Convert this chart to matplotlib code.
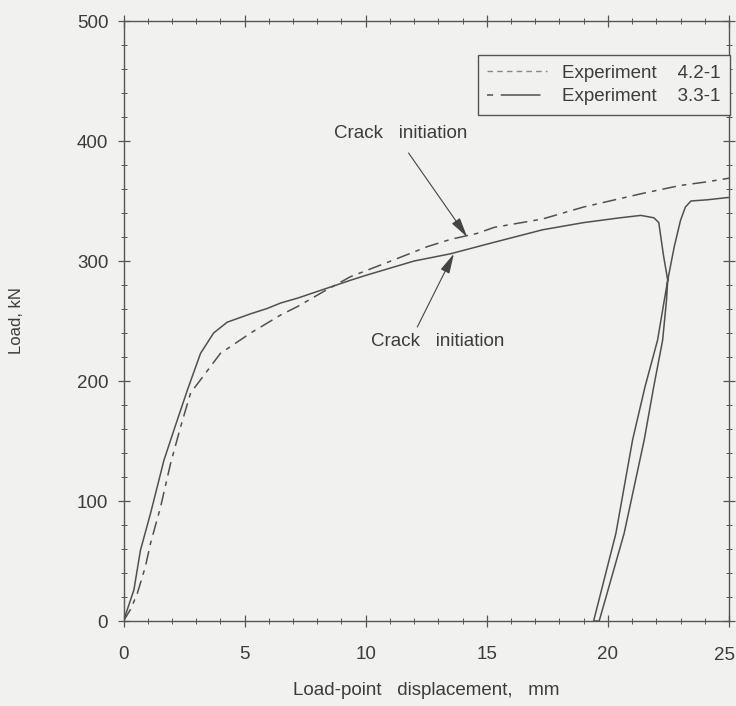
import matplotlib
matplotlib.use("Agg")
import matplotlib.pyplot as plt
from matplotlib.lines import Line2D
from matplotlib.ticker import MultipleLocator, FixedLocator, FixedFormatter

plt.rcParams['font.family'] = ['Liberation Sans', 'DejaVu Sans']
plt.rcParams['font.size'] = 13.5

# Experiment 3.3-1 (with unload / reload cycle near 22 mm)
disp_33 = [0, 0.43, 0.7, 1.12, 1.67, 2.08, 2.63, 3.18, 3.72, 4.28, 5.25, 5.94,
           6.49, 7.18, 8.5, 9.38, 10, 12, 13.5, 15, 17.3, 19, 20.5, 21.36, 21.9,
           22.1, 22.3, 22.47, 22.42, 22.26, 21.89, 21.5, 20.67, 19.64, 19.41,
           20.33, 21.02, 21.53, 22.05, 22.33, 22.47, 22.74, 23.0, 23.2, 23.43,
           24.1, 25]
load_33 = [0, 26, 59, 90, 134, 159, 192, 223, 240, 249, 256, 260.5,
           265, 269, 278, 284, 288, 300, 306, 314, 326, 332, 336, 338, 336,
           332, 304, 284, 267.5, 234, 195, 151, 73, 0, 0,
           73, 151, 195, 234, 267.5, 284, 312, 334, 345, 350,
           351, 353]

# Experiment 4.2-1
disp_42 = [0, 0.3, 0.57, 0.9, 1.12, 1.53, 1.94, 2.36, 2.77, 3.18, 4.0, 5.25,
           6.49, 7.18, 8.3, 9.38, 11.17, 12.55, 13.5, 14.6, 15.3, 17.3, 19,
           21.36, 23, 24.1, 25]
load_42 = [0, 10, 23, 45, 65, 95, 131, 162, 190, 201, 223, 240,
           255, 262, 275, 287, 301, 312, 318, 323, 328, 335, 345,
           356, 363, 366, 369]

x_ticks = [0, 5, 10, 15, 20, 25]
x_ticklabels = ["0", "5", "10", "15", "20", "25"]
labels = ["Experiment    4.2-1", "Experiment    3.3-1"]

bg = '#f1f1ef'
ink = '#3c3c3c'
line_col = '#505050'

fig = plt.figure(figsize=(7.36, 7.06), dpi=100, facecolor=bg)
ax = fig.add_axes([123.5 / 736, 1 - 621 / 706, (729 - 123.5) / 736, 600 / 706])
ax.set_facecolor(bg)

ax.plot(disp_33, load_33, color=line_col, lw=1.1, linestyle='-')
ax.plot(disp_42, load_42, color=line_col, lw=1.1, linestyle=(0, (9, 4, 3, 4)))

ax.set_xlim(0, 25)
ax.set_ylim(0, 500)
ax.xaxis.set_major_locator(FixedLocator(x_ticks))
# the last label sits at the page edge, it is drawn separately below
ax.xaxis.set_major_formatter(FixedFormatter(x_ticklabels[:-1] + [""]))
ax.xaxis.set_minor_locator(MultipleLocator(1))
ax.yaxis.set_major_locator(MultipleLocator(100))
ax.yaxis.set_minor_locator(MultipleLocator(20))
ax.tick_params(which='both', direction='inout', top=True, right=True,
               color='#555555', labelcolor=ink)
ax.tick_params(which='major', length=8, width=0.9)
ax.tick_params(which='minor', length=4, width=0.7)
ax.tick_params(axis='x', which='major', pad=14)
ax.tick_params(axis='y', which='major', pad=7)
for s in ax.spines.values():
    s.set_color('#555555')
    s.set_linewidth(1)

ax.annotate(x_ticklabels[-1], xy=(x_ticks[-1], 0),
            xycoords=('data', 'axes fraction'), xytext=(4.6, -24.5),
            textcoords='offset points', ha='right', va='center', color=ink,
            annotation_clip=False)

ax.set_xlabel("Load-point   displacement,   mm", color=ink, labelpad=14)
ax.set_ylabel("Load, kN", color=ink, fontsize=12, labelpad=38)

# crack initiation markers
arrow = dict(arrowstyle='-|>,head_length=0.9,head_width=0.22', color='#444444',
             lw=0.8, shrinkA=0, shrinkB=0)
ax.annotate("", xy=(14.19, 320), xytext=(11.77, 390), arrowprops=arrow)
ax.annotate("", xy=(13.64, 306), xytext=(12.13, 245), arrowprops=arrow)
ax.text(11.44, 406, "Crack   initiation", ha='center', va='center', color=ink)
ax.text(12.97, 233, "Crack   initiation", ha='center', va='center', color=ink)

handles = [Line2D([], [], color='#888888', lw=1, linestyle=(0, (4, 3))),
           Line2D([], [], color=line_col, lw=1.1, linestyle=(0, (4, 5, 22, 0)))]
leg = ax.legend(handles, labels, loc='upper right',
                bbox_to_anchor=(730 / 736, 1 - 55 / 706),
                bbox_transform=fig.transFigure, borderaxespad=0,
                fancybox=False, framealpha=1, facecolor=bg, edgecolor='#555555',
                handlelength=3.2, handletextpad=0.8, borderpad=0.5,
                labelspacing=0.35)
for t in leg.get_texts():
    t.set_color(ink)

fig.savefig("out.png", dpi=100, facecolor=bg)
